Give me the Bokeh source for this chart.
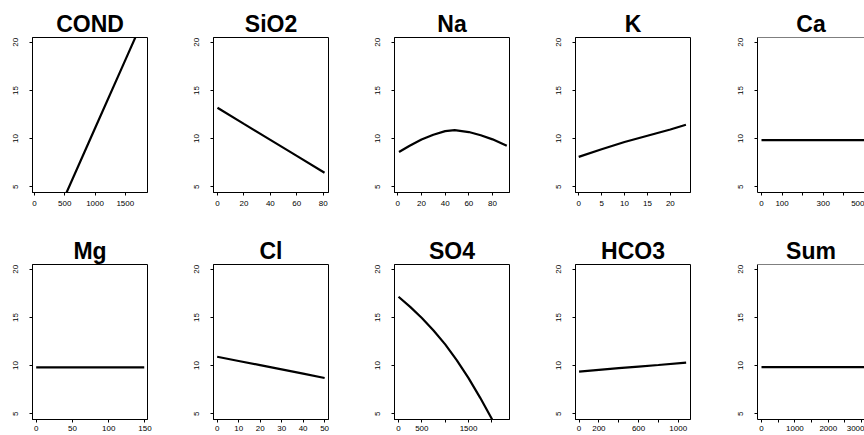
from bokeh.plotting import figure
from bokeh.layouts import column, row
from bokeh.models import FixedTicker, Range1d, Span
from bokeh.embed import file_html
from bokeh.resources import INLINE

# ---- data ----
titles = ["COND", "SiO2", "Na", "K", "Ca", "Mg", "Cl", "SO4", "HCO3", "Sum"]

cond_x = [0, 500, 1000, 1500, 1800]
cond_y = [-3.1, 3.98, 11.07, 18.15, 22.4]

sio2_x = [0, 20, 40, 60, 81]
sio2_y = [13.2, 11.53, 9.87, 8.2, 6.45]

na_x = [1, 10, 20, 30, 40, 48, 60, 70, 80, 92]
na_y = [8.6, 9.25, 9.9, 10.4, 10.78, 10.88, 10.68, 10.35, 9.92, 9.25]

k_x = [0, 5, 10, 15, 20, 23.4]
k_y = [8.1, 8.9, 9.65, 10.3, 10.95, 11.43]

ca_x = [0, 520]
ca_y = [9.85, 9.85]

mg_x = [0, 149]
mg_y = [9.82, 9.82]

cl_x = [0, 10, 20, 30, 40, 50]
cl_y = [10.92, 10.48, 10.04, 9.6, 9.16, 8.71]

so4_x = [0, 250, 500, 750, 1000, 1250, 1500, 1750, 2000, 2100]
so4_y = [17.15, 16.1, 14.95, 13.65, 12.2, 10.55, 8.7, 6.65, 4.45, 3.5]

hco3_x = [0, 200, 400, 600, 800, 1080]
hco3_y = [9.37, 9.56, 9.74, 9.9, 10.06, 10.3]

sum_x = [0, 3200]
sum_y = [9.85, 9.85]

y_ticks = [5, 10, 15, 20]

cond_ticks = [0, 500, 1000, 1500]
sio2_ticks = [0, 20, 40, 60, 80]
na_ticks = [0, 20, 40, 60, 80]
k_ticks = [0, 5, 10, 15, 20]
ca_ticks = [0, 100, 200, 300, 400, 500]
mg_ticks = [0, 50, 100, 150]
cl_ticks = [0, 10, 20, 30, 40, 50]
so4_ticks = [0, 500, 1000, 1500, 2000]
hco3_ticks = [0, 200, 400, 600, 800, 1000]
sum_ticks = [0, 500, 1000, 1500, 2000, 2500, 3000]

# tick labels that the original drops (overlap)
ca_hidden = [200, 400]
so4_hidden = [1000, 2000]
hco3_hidden = [400, 800]
sum_hidden = [500, 1500, 2500]

FONT = "Liberation Sans"


def panel(title, xs, ys, xr, ticks, hidden, row_i, last):
    fw = 107 if last else 115
    p = figure(
        frame_width=fw, frame_height=155,
        x_range=Range1d(*xr), y_range=Range1d(4.4, 20.5),
        min_border_left=33 if last else 32,
        min_border_right=0 if last else 34,
        min_border_top=37,
        min_border_bottom=35 if row_i == 0 else 16,
        output_backend="svg", toolbar_location=None, title=title,
    )
    p.title.text_font = FONT
    p.title.text_font_style = "bold"
    p.title.text_font_size = "23px"
    p.title.align = "center"
    p.title.standoff = 1
    p.title.text_color = "black"
    p.grid.visible = False
    p.background_fill_color = "white"
    p.border_fill_color = "white"
    if last:
        p.outline_line_color = None
        p.add_layout(Span(location=20.5, dimension="width", line_color="black", line_width=1))
    else:
        p.outline_line_color = "black"
        p.outline_line_width = 1
        p.outline_line_alpha = 1.0

    p.xaxis.ticker = FixedTicker(ticks=ticks, minor_ticks=[])
    p.yaxis.ticker = FixedTicker(ticks=y_ticks, minor_ticks=[])
    p.xaxis.major_label_overrides = {t: "" for t in hidden}
    for ax in (p.xaxis[0], p.yaxis[0]):
        ax.major_tick_out = 3
        ax.major_tick_in = 0
        ax.minor_tick_line_color = None
        ax.axis_line_color = "black"
        ax.major_tick_line_color = "black"
        ax.major_label_text_font = FONT
        ax.major_label_text_font_size = "8px"
        ax.major_label_text_color = "black"
    p.xaxis.major_label_standoff = 5 if row_i == 0 else 3
    p.yaxis.major_label_standoff = 11
    p.yaxis.major_label_orientation = "vertical"

    p.line(xs, ys, line_color="black", line_width=2.2)
    return p


specs = [
    (titles[0], cond_x, cond_y, (-33, 1867), cond_ticks, []),
    (titles[1], sio2_x, sio2_y, (-3.0, 84), sio2_ticks, []),
    (titles[2], na_x, na_y, (-2.8, 94.3), na_ticks, []),
    (titles[3], k_x, k_y, (-0.7, 24.4), k_ticks, []),
    (titles[4], ca_x, ca_y, (-19.4, 500.5), ca_ticks, ca_hidden),
    (titles[5], mg_x, mg_y, (-5.1, 153.5), mg_ticks, []),
    (titles[6], cl_x, cl_y, (-1.7, 51.8), cl_ticks, []),
    (titles[7], so4_x, so4_y, (-86, 2377), so4_ticks, so4_hidden),
    (titles[8], hco3_x, hco3_y, (-36, 1124), hco3_ticks, hco3_hidden),
    (titles[9], sum_x, sum_y, (-120, 3084), sum_ticks, sum_hidden),
]

figs = []
for i, s in enumerate(specs):
    r = i // 5
    last = (i % 5) == 4
    figs.append(panel(s[0], s[1], s[2], s[3], s[4], s[5], r, last))

layout = column(row(*figs[:5]), row(*figs[5:]))

open("out.html", "w").write(file_html(layout, INLINE))
